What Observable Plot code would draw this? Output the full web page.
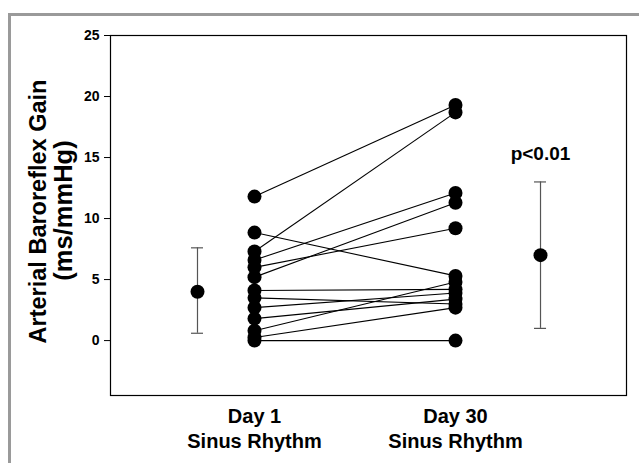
<!DOCTYPE html>
<html>
<head>
<meta charset="utf-8">
<script src="https://cdn.jsdelivr.net/npm/d3@7"></script>
<script src="https://cdn.jsdelivr.net/npm/@observablehq/plot@0.6"></script>
<style>
  html, body { margin: 0; padding: 0; background: #fff; }
  #wrap { position: relative; width: 639px; height: 463px; overflow: hidden; }
  #border { position: absolute; left: 8px; top: 13px; width: 700px; height: 500px;
            border-left: 3px solid #9a9a9a; border-top: 3px solid #9a9a9a; pointer-events: none; }
</style>
</head>
<body>
<div id="wrap"><div id="border"></div></div>
<script>
// ---- data ----
const groups = ["Day 1\nSinus Rhythm", "Day 30\nSinus Rhythm"];
const day1Values  = [11.8, 8.85, 7.3, 6.6, 6.0, 5.2, 4.1, 3.5, 2.7, 1.8, 0.8, 0.25, 0];
const day30Values = [19.3, 5.3, 18.7, 12.1, 9.2, 11.3, 4.2, 3.0, 3.9, 3.4, 4.8, 2.7, 0];
const meanValues  = [4.0, 7.0];
const upperValues = [7.6, 13.0];
const lowerValues = [0.6, 1.0];
const yTicks = [0, 5, 10, 15, 20, 25];
const annotation = "p<0.01";
const yLabelLine1 = "Arterial Baroreflex Gain";
const yLabelLine2 = "(ms/mmHg)";

// ---- layout (x positions of groups and summary columns) ----
const groupX = [1, 2];
const meanX = [0.7164, 2.4229];
const capHalf = 0.03;

const pairs = day1Values.map((v, i) => ({a: v, b: day30Values[i]}));
const points = [
  ...day1Values.map(v => ({x: groupX[0], y: v})),
  ...day30Values.map(v => ({x: groupX[1], y: v}))
];
const summary = meanValues.map((m, i) => ({x: meanX[i], mean: m, hi: upperValues[i], lo: lowerValues[i]}));
const font = "'Liberation Sans', Arial, Helvetica, sans-serif";

const chart = Plot.plot({
  width: 639,
  height: 463,
  marginLeft: 110,
  marginRight: 13,
  marginTop: 35,
  marginBottom: 68,
  style: {fontFamily: font, background: "transparent", overflow: "visible"},
  x: {domain: [0.2836, 2.8507], axis: null},
  y: {domain: [-4.5, 25], axis: null},
  marks: [
    Plot.frame({stroke: "#000", strokeWidth: 1.2}),
    Plot.axisY(yTicks, {tickSize: 6, tickPadding: 5, fontSize: 14, fontWeight: "bold", stroke: "#000", fill: "#000"}),
    Plot.link(pairs, {x1: () => groupX[0], y1: "a", x2: () => groupX[1], y2: "b", stroke: "#000", strokeWidth: 1.1}),
    Plot.dot(points, {x: "x", y: "y", r: 7, fill: "#000", stroke: "none"}),
    Plot.ruleX(summary, {x: "x", y1: "lo", y2: "hi", stroke: "#555", strokeWidth: 1.2}),
    Plot.ruleY(summary, {y: "hi", x1: d => d.x - capHalf, x2: d => d.x + capHalf, stroke: "#555", strokeWidth: 1.2}),
    Plot.ruleY(summary, {y: "lo", x1: d => d.x - capHalf, x2: d => d.x + capHalf, stroke: "#555", strokeWidth: 1.2}),
    Plot.dot(summary, {x: "x", y: "mean", r: 7, fill: "#000", stroke: "none"}),
    Plot.text([summary[1]], {x: "x", y: "hi", text: () => annotation, dy: -28, fontSize: 19, fontWeight: "bold", fill: "#000"}),
    Plot.text(groups, {x: (d, i) => groupX[i], frameAnchor: "bottom", text: d => d, lineAnchor: "top", dy: 10, fontSize: 20, fontWeight: "bold", lineHeight: 1.25, fill: "#000"}),
    Plot.text([yLabelLine1], {frameAnchor: "left", dx: -72, dy: -4, text: d => d, rotate: -90, textAnchor: "middle", fontSize: 23.5, fontWeight: "bold", fill: "#000"}),
    Plot.text([yLabelLine2], {frameAnchor: "left", dx: -47, dy: -5, text: d => d, rotate: -90, textAnchor: "middle", fontSize: 25.5, fontWeight: "bold", fill: "#000"})
  ]
});
document.getElementById("wrap").prepend(chart);
</script>
</body>
</html>
